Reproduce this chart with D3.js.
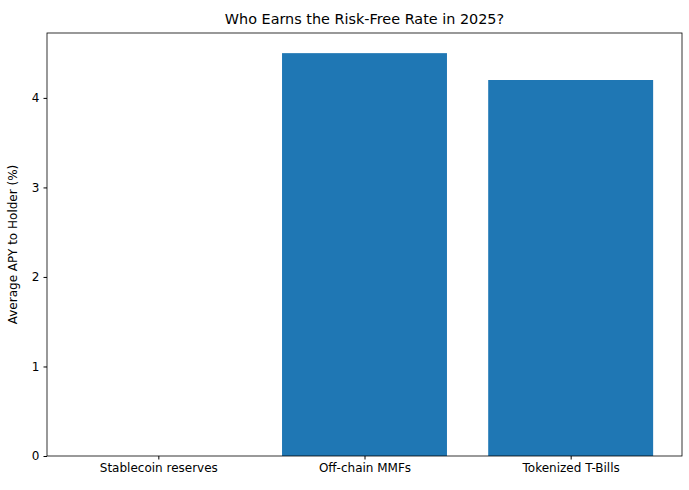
<!DOCTYPE html>
<html><head><meta charset="utf-8">
<script src="https://cdn.jsdelivr.net/npm/d3@7"></script>
<style>body{margin:0;background:#fff}text{font-family:"DejaVu Sans",sans-serif}</style>
</head><body><div id="chart"></div>
<script>
// ── DATA ─────────────────────────────────────────────────────────────────────
const categories = ['Stablecoin reserves', 'Off-chain MMFs', 'Tokenized T-Bills'];
const apy        = [0, 4.5, 4.2];
const yTicks     = [0, 1, 2, 3, 4];

// ── DIMENSIONS ───────────────────────────────────────────────────────────────
const W = 689, H = 490;
const margin = { top: 33, right: 7, bottom: 34, left: 47 };
const width  = W - margin.left - margin.right;
const height = H - margin.top - margin.bottom;

const svg = d3.select('#chart').append('svg')
  .attr('width', W).attr('height', H)
  .append('g').attr('transform', `translate(${margin.left},${margin.top})`);

const x = d3.scaleLinear().domain([-0.54, 2.54]).range([0, width]);
const y = d3.scaleLinear().domain([0, 4.725]).range([height, 0]);

// ── BARS ─────────────────────────────────────────────────────────────────────
svg.selectAll('.bar').data(apy).join('rect')
  .attr('x', (d, i) => x(i - 0.4))
  .attr('width', x(0.8) - x(0))
  .attr('y', d => y(d))
  .attr('height', d => y(0) - y(d))
  .attr('fill', '#1f77b4');

// ── AXES ─────────────────────────────────────────────────────────────────────
const yAxis = svg.append('g')
  .call(d3.axisLeft(y).tickValues(yTicks).tickFormat(d3.format('d')).tickSizeOuter(0).tickSize(3.5).tickPadding(4));
const xAxis = svg.append('g').attr('transform', `translate(0,${height})`)
  .call(d3.axisBottom(x).tickValues([0, 1, 2]).tickFormat(i => categories[i]).tickSizeOuter(0).tickSize(3.5).tickPadding(4));
[xAxis, yAxis].forEach(a => {
  a.selectAll('text').attr('font-size', '12px').attr('fill', '#000').style('font-family', '"DejaVu Sans",sans-serif');
  a.select('.domain').remove();
  a.selectAll('line').attr('stroke', '#000');
});

svg.append('rect').attr('width', width).attr('height', height)
  .attr('fill', 'none').attr('stroke', '#000').attr('stroke-width', 0.8);

svg.append('text')
  .attr('transform', 'rotate(-90)')
  .attr('x', -height / 2).attr('y', -30)
  .attr('text-anchor', 'middle').attr('font-size', '12px')
  .text('Average APY to Holder (%)');

svg.append('text')
  .attr('x', width / 2).attr('y', -9)
  .attr('text-anchor', 'middle').attr('font-size', '14.4px')
  .text('Who Earns the Risk-Free Rate in 2025?');
</script></body></html>
